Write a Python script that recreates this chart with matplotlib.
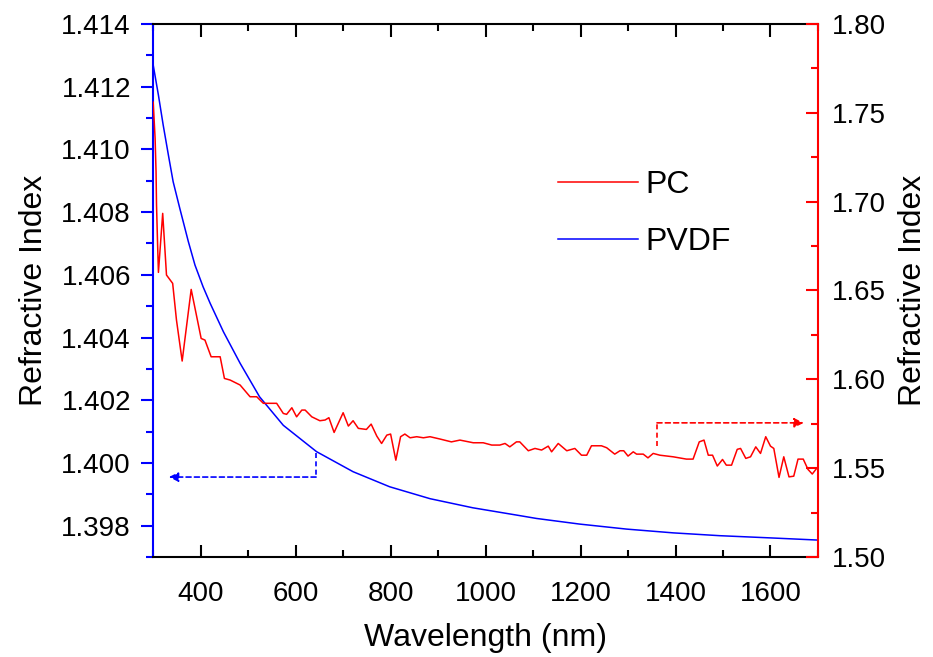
import matplotlib
matplotlib.use("Agg")
import matplotlib.pyplot as plt
from matplotlib.ticker import MultipleLocator, FormatStrFormatter

plt.rcParams['font.family'] = ['Liberation Sans', 'DejaVu Sans']

# PVDF (left axis)
wl_pvdf = [300, 311, 321, 332, 342, 356, 374, 388, 405, 420, 448, 483, 524, 574,
           644, 721, 798, 883, 973, 1072, 1107, 1198, 1297, 1395, 1493, 1599, 1700]
n_pvdf = [1.41269, 1.41173, 1.41078, 1.40982, 1.40897, 1.40812, 1.40706, 1.40631,
          1.40562, 1.40509, 1.40418, 1.40318, 1.40211, 1.40120, 1.40036, 1.39972,
          1.39924, 1.39886, 1.39857, 1.39832, 1.39823, 1.39805, 1.39789, 1.39777,
          1.39768, 1.39761, 1.39754]

# PC (right axis)
wl_pc = [300, 304, 306, 307, 309, 311, 320, 328, 341, 349, 361, 380, 401, 409, 422,
         441, 450, 462, 483, 504, 518, 532, 560, 574, 581, 592, 602, 613, 620, 634,
         651, 662, 670, 681, 700, 711, 721, 732, 749, 759, 771, 781, 792, 800, 811,
         821, 830, 841, 855, 869, 883, 904, 928, 946, 974, 995, 1013, 1030, 1041,
         1051, 1065, 1072, 1090, 1104, 1118, 1132, 1139, 1153, 1171, 1188, 1202,
         1213, 1223, 1244, 1255, 1272, 1283, 1291, 1300, 1311, 1318, 1332, 1342,
         1353, 1367, 1395, 1423, 1437, 1450, 1460, 1469, 1478, 1488, 1499, 1507,
         1518, 1530, 1537, 1548, 1558, 1569, 1579, 1590, 1600, 1607, 1618, 1628,
         1639, 1649, 1658, 1669, 1679, 1688, 1697]
n_pc = [1.7560, 1.7357, 1.7168, 1.6981, 1.6784, 1.6602, 1.6934, 1.6587, 1.6540,
        1.6334, 1.6103, 1.6506, 1.6230, 1.6221, 1.6127, 1.6127, 1.6005, 1.5996,
        1.5968, 1.5902, 1.5902, 1.5865, 1.5865, 1.5808, 1.5803, 1.5840, 1.5789,
        1.5827, 1.5827, 1.5789, 1.5767, 1.5771, 1.5784, 1.5701, 1.5812, 1.5737,
        1.5767, 1.5724, 1.5718, 1.5748, 1.5680, 1.5639, 1.5686, 1.5692, 1.5545,
        1.5677, 1.5692, 1.5671, 1.5677, 1.5671, 1.5677, 1.5664, 1.5648, 1.5658,
        1.5643, 1.5643, 1.5630, 1.5630, 1.5639, 1.5620, 1.5648, 1.5648, 1.5598,
        1.5611, 1.5602, 1.5624, 1.5592, 1.5639, 1.5598, 1.5611, 1.5573, 1.5573,
        1.5626, 1.5626, 1.5615, 1.5579, 1.5598, 1.5598, 1.5568, 1.5592, 1.5579,
        1.5579, 1.5558, 1.5583, 1.5573, 1.5564, 1.5551, 1.5551, 1.5648, 1.5658,
        1.5573, 1.5573, 1.5512, 1.5549, 1.5517, 1.5517, 1.5606, 1.5611, 1.5555,
        1.5564, 1.5620, 1.5583, 1.5677, 1.5624, 1.5611, 1.5448, 1.5564, 1.5451,
        1.5455, 1.5551, 1.5551, 1.5493, 1.5467, 1.5498]

fig = plt.figure(figsize=(9.33, 6.57), dpi=100)
ax = fig.add_axes([0.1642, 0.1522, 0.7125, 0.8113])
ax2 = ax.twinx()

ax.plot(wl_pvdf, n_pvdf, color='blue', lw=1.1, label='PVDF')
ax2.plot(wl_pc, n_pc, color='red', lw=1.1, label='PC')

ax.set_xlim(300, 1700)
ax.set_ylim(1.397, 1.414)
ax2.set_ylim(1.50, 1.80)

ax.xaxis.set_major_locator(MultipleLocator(200))
ax.xaxis.set_minor_locator(MultipleLocator(100))
ax.yaxis.set_major_locator(MultipleLocator(0.002))
ax.yaxis.set_minor_locator(MultipleLocator(0.001))
ax.yaxis.set_major_formatter(FormatStrFormatter('%.3f'))
ax2.yaxis.set_major_locator(MultipleLocator(0.05))
ax2.yaxis.set_minor_locator(MultipleLocator(0.025))
ax2.yaxis.set_major_formatter(FormatStrFormatter('%.2f'))

# spines
for s in ['left', 'right', 'top', 'bottom']:
    ax.spines[s].set_linewidth(1.5)
    ax2.spines[s].set_linewidth(1.5)
ax.spines['right'].set_visible(False)
ax2.spines['left'].set_visible(False)
ax2.spines['top'].set_visible(False)
ax2.spines['bottom'].set_visible(False)
ax.spines['left'].set_color('blue')
ax2.spines['right'].set_color('red')

ax.tick_params(axis='x', which='both', direction='in', top=True, labelsize=20,
               pad=17, width=1.5, color='black')
ax.tick_params(axis='x', which='major', length=9)
ax.tick_params(axis='x', which='minor', length=5)
ax.tick_params(axis='y', which='both', direction='out', colors='blue', labelcolor='black',
               labelsize=20, width=1.5, pad=7)
ax.tick_params(axis='y', which='major', length=9)
ax.tick_params(axis='y', which='minor', length=5)
ax2.tick_params(axis='y', which='both', direction='in', colors='red', labelcolor='black',
                labelsize=20, width=1.5, pad=10)
ax2.tick_params(axis='y', which='major', length=9)
ax2.tick_params(axis='y', which='minor', length=5)

ax.set_xlabel('Wavelength (nm)', fontsize=23, labelpad=12)
ax.set_ylabel('Refractive Index', fontsize=23, labelpad=9)
ax2.set_ylabel('Refractive Index', fontsize=23, labelpad=9)

# direction arrows
dash = (0, (3, 2))
ax.plot([643, 643], [1.40031, 1.39955], color='blue', lw=1.2, linestyle=dash)
ax.annotate('', xy=(333, 1.39955), xytext=(643, 1.39955),
            arrowprops=dict(arrowstyle='-|>', color='blue', lw=1.2, linestyle=dash,
                            mutation_scale=14, shrinkA=0, shrinkB=0))
ax2.plot([1361, 1361], [1.5626, 1.5755], color='red', lw=1.2, linestyle=dash)
ax2.annotate('', xy=(1670, 1.5755), xytext=(1361, 1.5755),
             arrowprops=dict(arrowstyle='-|>', color='red', lw=1.2, linestyle=dash,
                             mutation_scale=14, shrinkA=0, shrinkB=0))

h1, l1 = ax2.get_legend_handles_labels()
h2, l2 = ax.get_legend_handles_labels()
ax2.legend(h1 + h2, l1 + l2, loc='upper left', bbox_to_anchor=(558 / 933, 1 - 170 / 657),
           bbox_transform=fig.transFigure, frameon=False, fontsize=23,
           handlelength=2.5, handletextpad=0.25, labelspacing=0.85,
           borderpad=0, borderaxespad=0)

fig.savefig('out.png', dpi=100)
